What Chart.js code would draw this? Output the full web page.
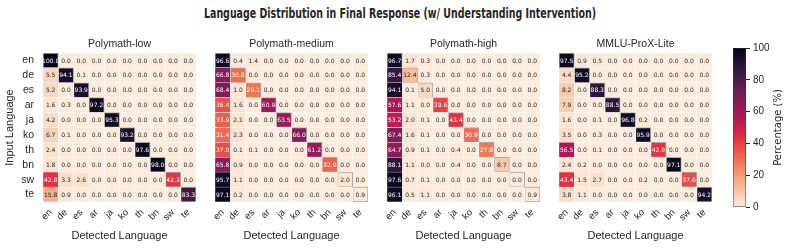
<!DOCTYPE html>
<html>
<head>
<meta charset="UTF-8" />
<title>language distribution heatmap</title>
<script src="https://cdn.jsdelivr.net/npm/chart.js@4.4.1/dist/chart.umd.min.js"></script>
<style>
  body { margin: 0; background: #fff; }
  #wrap { position: relative; width: 793px; height: 250px; overflow: hidden; font-family: 'DejaVu Sans'; color: #262626; }
  canvas { position: absolute; }
  #title { position: absolute; left: 400px; top: 7px; white-space: nowrap; font-family: 'DejaVu Sans Condensed', 'DejaVu Sans'; font-weight: bold; font-size: 13.5px; line-height: 1; transform-origin: 0 0; }
</style>
<script>
const inputLangs = ['en', 'de', 'es', 'ar', 'ja', 'ko', 'th', 'bn', 'sw', 'te']
const detectedLangs = ['en', 'de', 'es', 'ar', 'ja', 'ko', 'th', 'bn', 'sw', 'te']
const panelTitles = ['Polymath-low', 'Polymath-medium', 'Polymath-high', 'MMLU-ProX-Lite']
const colorbarTicks = [0, 20, 40, 60, 80, 100]

// rows = input language, cols = detected language (%)
const polymathLow = [
  [100.0, 0.0, 0.0, 0.0, 0.0, 0.0, 0.0, 0.0, 0.0, 0.0],
  [5.5, 94.1, 0.1, 0.0, 0.0, 0.0, 0.0, 0.0, 0.0, 0.0],
  [5.2, 0.0, 93.9, 0.0, 0.0, 0.0, 0.0, 0.0, 0.0, 0.0],
  [1.6, 0.3, 0.0, 97.2, 0.0, 0.0, 0.0, 0.0, 0.0, 0.0],
  [4.2, 0.0, 0.0, 0.0, 95.3, 0.0, 0.0, 0.0, 0.0, 0.0],
  [6.7, 0.1, 0.0, 0.0, 0.0, 93.2, 0.0, 0.0, 0.0, 0.0],
  [2.4, 0.0, 0.0, 0.0, 0.0, 0.0, 97.6, 0.0, 0.0, 0.0],
  [1.8, 0.0, 0.0, 0.0, 0.0, 0.0, 0.0, 98.0, 0.0, 0.0],
  [42.8, 3.3, 2.6, 0.0, 0.0, 0.0, 0.0, 0.0, 42.3, 0.0],
  [15.8, 0.9, 0.0, 0.0, 0.0, 0.0, 0.0, 0.0, 0.0, 83.3]
]
const polymathMedium = [
  [96.6, 0.4, 1.4, 0.0, 0.0, 0.0, 0.0, 0.0, 0.0, 0.0],
  [66.8, 30.8, 0.0, 0.0, 0.0, 0.0, 0.0, 0.0, 0.0, 0.0],
  [68.4, 1.0, 29.1, 0.0, 0.0, 0.0, 0.0, 0.0, 0.0, 0.0],
  [36.4, 1.6, 0.0, 60.9, 0.0, 0.0, 0.0, 0.0, 0.0, 0.0],
  [33.9, 2.1, 0.0, 0.0, 63.5, 0.0, 0.0, 0.0, 0.0, 0.0],
  [31.4, 2.3, 0.0, 0.0, 0.0, 66.0, 0.0, 0.0, 0.0, 0.0],
  [37.0, 0.1, 0.1, 0.0, 0.0, 0.0, 61.2, 0.0, 0.0, 0.0],
  [65.8, 0.9, 0.0, 0.0, 0.0, 0.0, 0.0, 32.9, 0.0, 0.0],
  [95.7, 1.1, 0.0, 0.0, 0.0, 0.0, 0.0, 0.0, 2.0, 0.0],
  [97.1, 0.2, 0.0, 0.0, 0.0, 0.0, 0.0, 0.0, 0.0, 0.9]
]
const polymathHigh = [
  [96.7, 1.7, 0.3, 0.0, 0.0, 0.0, 0.0, 0.0, 0.0, 0.0],
  [85.4, 12.4, 0.3, 0.0, 0.0, 0.0, 0.0, 0.0, 0.0, 0.0],
  [94.1, 0.1, 5.0, 0.0, 0.0, 0.0, 0.0, 0.0, 0.0, 0.0],
  [57.6, 1.1, 0.0, 39.6, 0.0, 0.0, 0.0, 0.0, 0.0, 0.0],
  [53.2, 2.0, 0.1, 0.0, 43.4, 0.0, 0.0, 0.0, 0.0, 0.0],
  [67.4, 1.6, 0.1, 0.0, 0.0, 30.9, 0.0, 0.0, 0.0, 0.0],
  [64.7, 0.9, 0.1, 0.0, 0.4, 0.0, 27.8, 0.0, 0.0, 0.0],
  [88.1, 1.1, 0.0, 0.0, 0.4, 0.0, 0.0, 8.7, 0.0, 0.0],
  [97.6, 0.7, 0.1, 0.0, 0.0, 0.0, 0.0, 0.0, 0.0, 0.0],
  [96.1, 0.5, 1.1, 0.0, 0.0, 0.0, 0.0, 0.0, 0.0, 0.9]
]
const mmluProxLite = [
  [97.5, 0.9, 0.5, 0.0, 0.0, 0.0, 0.0, 0.0, 0.0, 0.0],
  [4.4, 95.2, 0.0, 0.0, 0.0, 0.0, 0.0, 0.0, 0.0, 0.0],
  [8.2, 0.0, 88.3, 0.0, 0.0, 0.0, 0.0, 0.0, 0.0, 0.0],
  [7.9, 0.0, 0.0, 88.5, 0.0, 0.0, 0.0, 0.0, 0.0, 0.0],
  [1.6, 0.0, 0.1, 0.0, 96.8, 0.2, 0.0, 0.0, 0.0, 0.0],
  [3.5, 0.0, 0.3, 0.0, 0.0, 95.9, 0.0, 0.0, 0.0, 0.0],
  [56.5, 0.0, 0.1, 0.0, 0.0, 0.0, 42.9, 0.0, 0.0, 0.0],
  [2.4, 0.2, 0.0, 0.0, 0.0, 0.0, 0.0, 97.1, 0.0, 0.0],
  [43.4, 1.5, 2.7, 0.0, 0.0, 0.2, 0.0, 0.0, 37.6, 0.0],
  [3.8, 1.1, 0.0, 0.0, 0.0, 0.0, 0.0, 0.0, 0.0, 94.2]
]
const panels = [polymathLow, polymathMedium, polymathHigh, mmluProxLite]

// seaborn "rocket", used reversed
const rocket = [
  [0.0, 3, 5, 26], [0.071, 28, 15, 44], [0.143, 53, 25, 62], [0.286, 112, 31, 87],
  [0.429, 173, 23, 89], [0.5, 202, 30, 80], [0.571, 225, 51, 66], [0.714, 243, 118, 81],
  [0.857, 246, 180, 143], [0.93, 248, 208, 183], [1.0, 250, 235, 221]
]
const rgbFor = function (v) {
  const t = 1 - Math.max(0, Math.min(100, v)) / 100
  for (let k = 1; k < rocket.length; k++) {
    if (t <= rocket[k][0]) {
      const a = rocket[k - 1], b = rocket[k]
      const f = (t - a[0]) / (b[0] - a[0])
      return [1, 2, 3].map(c => Math.round(a[c] + (b[c] - a[c]) * f))
    }
  }
  return rocket[rocket.length - 1].slice(1)
}
const cellColor = v => `rgb(${rgbFor(v).join(',')})`
const textColor = function (v) {
  const lin = rgbFor(v).map(c => { c /= 255; return c <= 0.03928 ? c / 12.92 : Math.pow((c + 0.055) / 1.055, 2.4) })
  const lum = 0.2126 * lin[0] + 0.7152 * lin[1] + 0.0722 * lin[2]
  return lum > 0.408 ? '#262626' : '#ffffff'
}

const ink = '#262626'

const cellText = {
  id: 'cellText',
  afterDatasetsDraw(chart, args, opts) {
    const ctx = chart.ctx
    ctx.save()
    ctx.font = '6px "DejaVu Sans"'
    ctx.textAlign = 'center'
    ctx.textBaseline = 'middle'
    chart.data.datasets.forEach((ds, j) => {
      chart.getDatasetMeta(j).data.forEach((bar, i) => {
        const v = opts.matrix[i][j]
        ctx.fillStyle = textColor(v)
        ctx.fillText(v.toFixed(1), (bar.x + bar.base) / 2, bar.y + 0.5)
      })
    })
    ctx.restore()
  }
}

// colorbar label reads bottom to top, like matplotlib
const sideLabel = {
  id: 'sideLabel',
  afterDraw(chart, args, opts) {
    const ctx = chart.ctx
    const area = chart.chartArea
    ctx.save()
    ctx.translate(opts.x, (area.top + area.bottom) / 2)
    ctx.rotate(-Math.PI / 2)
    ctx.font = '10px "DejaVu Sans"'
    ctx.fillStyle = ink
    ctx.textAlign = 'center'
    ctx.textBaseline = 'middle'
    ctx.fillText(opts.text, 0, 0)
    ctx.restore()
  }
}

const drawHeatmap = function (id, matrix, title, first) {
  const datasets = detectedLangs.map((lang, j) => ({
    label: lang,
    data: inputLangs.map(() => 1),
    backgroundColor: inputLangs.map((_, i) => cellColor(matrix[i][j])),
    borderColor: inputLangs.map((_, i) => i === j ? '#a8a8a8' : '#ffffff'),
    borderWidth: inputLangs.map((_, i) => i === j ? 1 : 0.5),
    borderSkipped: false,
    barPercentage: 1,
    categoryPercentage: 1
  }))
  new Chart(document.getElementById(id), {
    type: 'bar',
    data: { labels: inputLangs, datasets: datasets },
    plugins: [cellText],
    options: {
      indexAxis: 'y',
      responsive: false,
      animation: false,
      layout: { padding: 0 },
      plugins: {
        legend: { display: false },
        tooltip: { enabled: false },
        title: { display: true, text: title, color: ink, font: { size: 10.5, weight: 'normal' }, padding: { top: 8, bottom: 2.4 } },
        cellText: { matrix: matrix }
      },
      scales: {
        x: {
          type: 'linear', stacked: true, min: 0, max: 10,
          grid: { display: false, drawTicks: false }, border: { display: false },
          afterBuildTicks: s => { s.ticks = detectedLangs.map((_, j) => ({ value: j + 0.5 })) },
          afterFit: s => { s.height = 48 },
          ticks: { autoSkip: false, minRotation: 45, maxRotation: 45, padding: 5, color: ink, font: { size: 9.5 },
            callback: v => detectedLangs[Math.floor(v)] },
          title: { display: true, text: 'Detected Language', color: ink, font: { size: 11 }, padding: { top: 0, bottom: 7.4 } }
        },
        y: {
          stacked: true,
          grid: { display: false, drawTicks: false }, border: { display: false },
          afterFit: s => { s.width = 43 },
          ticks: { display: first, autoSkip: false, padding: 9, color: ink, font: { size: 10.5 } },
          title: { display: first, text: 'Input Language', color: ink, font: { size: 11 }, padding: { top: 3.4, bottom: 0 } }
        },
        // empty right-hand box so the panel title centres over the cells
        yPad: {
          type: 'category', position: 'right', labels: inputLangs,
          grid: { display: false, drawTicks: false }, border: { display: false },
          ticks: { display: false },
          afterFit: s => { s.width = 43 }
        }
      }
    }
  })
}

const drawColorbar = function () {
  new Chart(document.getElementById('cbar'), {
    type: 'bar',
    data: {
      labels: [''],
      datasets: [{
        data: [[0, 100]],
        backgroundColor: c => {
          const area = c.chart.chartArea
          if (!area) return null
          const g = c.chart.ctx.createLinearGradient(0, area.bottom, 0, area.top)
          for (let k = 0; k <= 20; k++) g.addColorStop(k / 20, cellColor(k * 5))
          return g
        },
        borderColor: '#333333',
        borderWidth: 0.8,
        borderSkipped: false,
        barPercentage: 1,
        categoryPercentage: 1
      }]
    },
    plugins: [sideLabel],
    options: {
      responsive: false,
      animation: false,
      layout: { padding: { left: 33, top: 18, right: 0, bottom: 43 } },
      plugins: {
        legend: { display: false },
        tooltip: { enabled: false },
        sideLabel: { text: 'Percentage (%)', x: 78 }
      },
      scales: {
        x: { display: false },
        y: {
          position: 'right', min: 0, max: 100,
          afterBuildTicks: s => { s.ticks = colorbarTicks.map(v => ({ value: v })) },
          afterFit: s => { s.width = 47 },
          grid: { drawOnChartArea: false, drawTicks: true, tickLength: 4, color: ink },
          border: { display: false },
          ticks: { padding: 3, color: ink, font: { size: 10 } }
        }
      }
    }
  })
}

window.onload = function () {
  // squeeze the suptitle to the width it has in the figure
  const t = document.getElementById('title')
  const w = t.getBoundingClientRect().width
  const k = 392 / w
  t.style.transform = `translateX(-50%) scaleX(${k})`
  t.style.transformOrigin = '50% 0'
  panels.forEach((m, i) => drawHeatmap('p' + i, m, panelTitles[i], i === 0))
  drawColorbar()
}
</script>
</head>
<body>
  <div id="wrap">
    <div id="title">Language Distribution in Final Response (w/ Understanding Intervention)</div>
    <canvas id="p0" width="239" height="220" style="left:0px;top:30px"></canvas>
    <canvas id="p1" width="239" height="220" style="left:172px;top:30px"></canvas>
    <canvas id="p2" width="239" height="220" style="left:344px;top:30px"></canvas>
    <canvas id="p3" width="239" height="220" style="left:516px;top:30px"></canvas>
    <canvas id="cbar" width="93" height="220" style="left:700px;top:30px"></canvas>
  </div>
</body>
</html>
